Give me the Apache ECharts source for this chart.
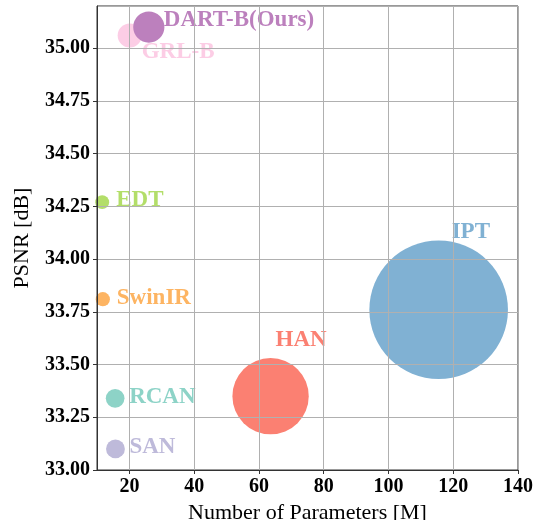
<!DOCTYPE html>
<html>
<head>
<meta charset="utf-8">
<script src="https://cdn.jsdelivr.net/npm/echarts@6/dist/echarts.min.js"></script>
<style>
  html, body { margin: 0; padding: 0; background: #fff; }
  #chart { width: 537px; height: 520px; }
</style>
</head>
<body>
<div id="chart"></div>
<script>
// 模型名, 参数量(M), PSNR(dB)
var names = ['SAN', 'RCAN', 'SwinIR', 'EDT', 'HAN', 'IPT', 'GRL-B', 'DART-B(Ours)'];
var params = [15.7, 15.6, 11.8, 11.6, 63.6, 115.5, 20.1, 26.0];
var psnr = [33.10, 33.34, 33.81, 34.27, 33.35, 33.76, 35.06, 35.10];
var xTicks = [20, 40, 60, 80, 100, 120, 140];

// 颜色 (Set3) 和标签偏移
var colors = ['#bebada', '#8dd3c7', '#fdb462', '#b3de69', '#fb8072', '#80b1d3', '#fccde5', '#bc80bd'];
var labelOffsets = [[14, -2], [14, -1], [14, -1], [14, -2], [5, -56], [13, -78], [12, 17], [15, -7]];

var serif = '"Liberation Serif", "DejaVu Serif", serif';

var seriesData = [];
for (let i = 0; i < names.length; i++) {
    seriesData.push({
        name: names[i],
        value: [params[i], psnr[i]],
        itemStyle: { color: colors[i], opacity: 1 },
        label: {
            show: true,
            formatter: names[i],
            position: 'inside',
            align: 'left',
            verticalAlign: 'middle',
            offset: labelOffsets[i],
            color: colors[i],
            fontFamily: serif,
            fontWeight: 'bold',
            fontSize: 23
        }
    });
}

var chart = echarts.init(document.getElementById('chart'));
chart.setOption({
    animation: false,
    grid: {
        left: 97, right: 19, top: 6, bottom: 50,
        outerBoundsMode: 'none',
        containLabel: false,
        show: true,
        borderColor: '#333',
        borderWidth: 1,
        backgroundColor: 'transparent'
    },
    xAxis: {
        type: 'value',
        min: 10,
        max: 140,
        name: 'Number of Parameters [M]',
        nameLocation: 'middle',
        nameGap: 27,
        nameTextStyle: { fontFamily: serif, fontSize: 22, color: '#000' },
        axisLine: { show: true, lineStyle: { color: '#333', width: 1 } },
        axisTick: { show: true, length: 4, customValues: xTicks, lineStyle: { color: '#333' } },
        axisLabel: {
            customValues: xTicks,
            fontFamily: serif, fontWeight: 'bold', fontSize: 20, color: '#000', margin: 7
        },
        splitLine: { show: true, lineStyle: { color: '#b0b0b0', width: 1 } }
    },
    yAxis: {
        type: 'value',
        min: 33,
        max: 35.2,
        interval: 0.25,
        name: 'PSNR [dB]',
        nameLocation: 'middle',
        nameGap: 64,
        nameTextStyle: { fontFamily: serif, fontSize: 22, color: '#000' },
        axisLine: { show: true, lineStyle: { color: '#333', width: 1 } },
        axisTick: { show: true, length: 4, lineStyle: { color: '#333' } },
        axisLabel: {
            showMaxLabel: false,
            formatter: function (v) { return v.toFixed(2); },
            fontFamily: serif, fontWeight: 'bold', fontSize: 20, color: '#000', margin: 7
        },
        splitLine: { show: true, lineStyle: { color: '#b0b0b0', width: 1 } }
    },
    series: [{
        type: 'scatter',
        z: -1,
        symbol: 'circle',
        symbolSize: function (val) { return val[0] * 1.2; },
        emphasis: { disabled: true },
        data: seriesData
    }]
});
</script>
</body>
</html>
